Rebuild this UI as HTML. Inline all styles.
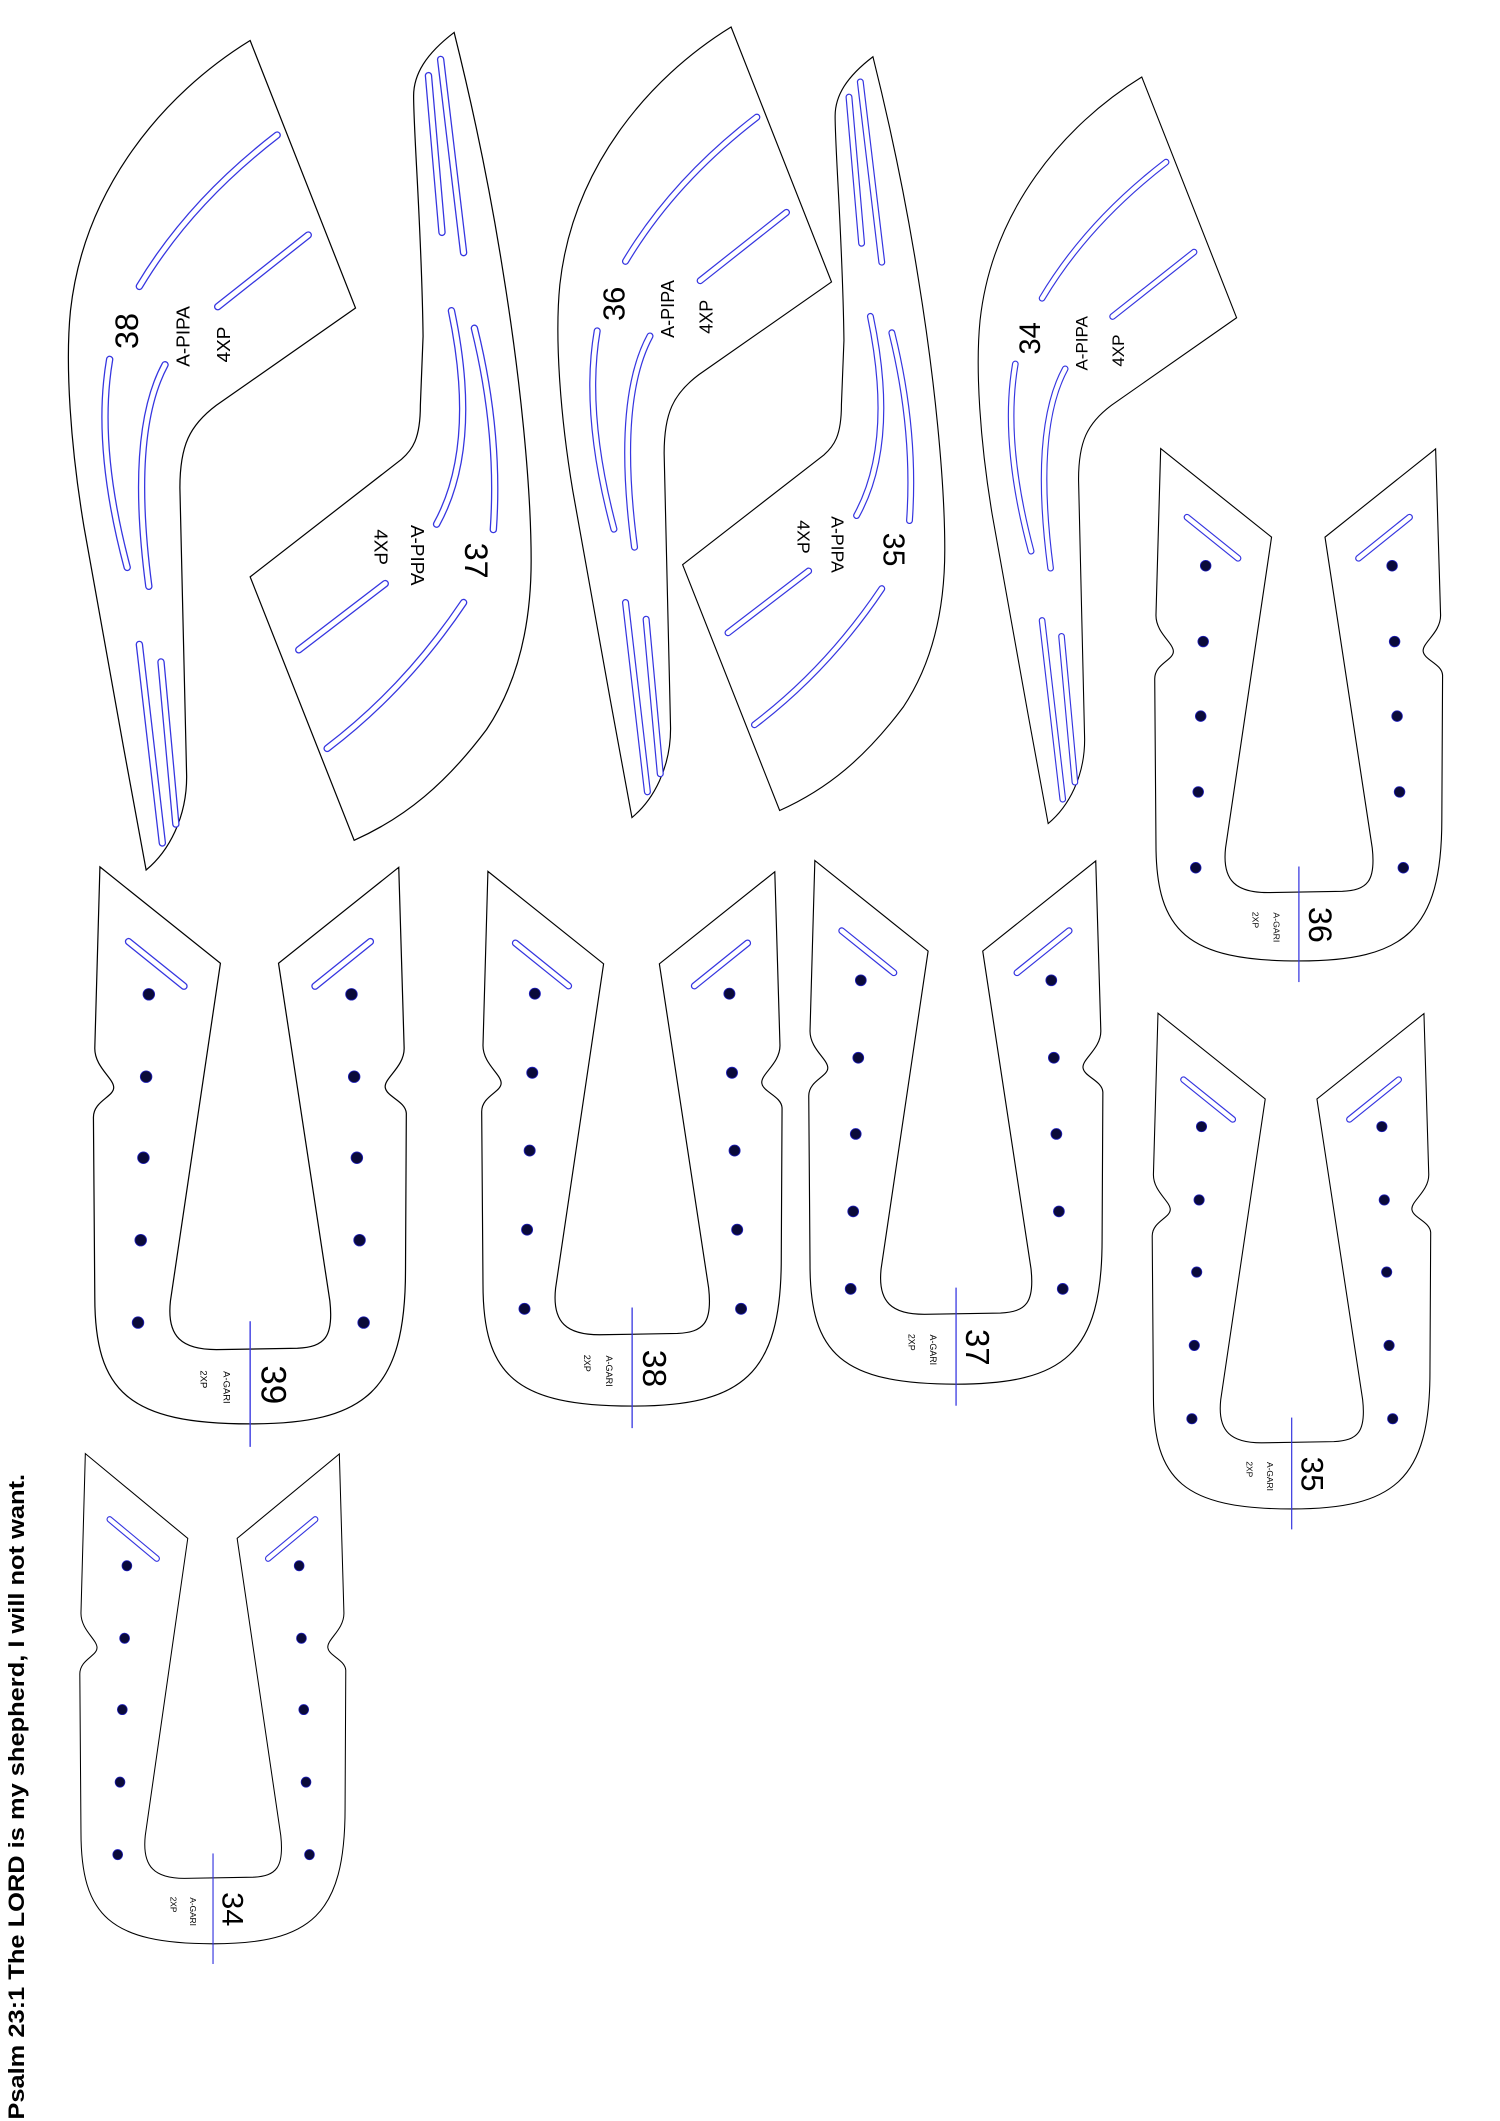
<!DOCTYPE html>
<html><head><meta charset="utf-8"><style>
html,body{margin:0;padding:0;background:#fff;}
svg{display:block;}
text{font-family:"Liberation Sans",sans-serif;fill:#000;}
</style></head><body>
<svg width="1500" height="2121" viewBox="0 0 1110 1570" xmlns="http://www.w3.org/2000/svg">
<defs>
  <g id="pipaSlots" fill="none" stroke-linecap="round">
    <path d="M103,212 Q140,150 205,100"/>
    <path d="M161,227 L228,174"/>
    <path d="M81,266 Q70,330 94,420"/>
    <path d="M122,270 Q95,320 110,434"/>
    <path d="M103,477 L120,624"/>
    <path d="M119,490 L130,610"/>
  </g>
  <g id="pipa">
    <path d="M185,30 L263,228 L160,300 C140,315 133,330 133,361 L138,575 C138,605 125,630 108,644 C92,560 75,460 62,390 C52,330 48,270 52,230 C62,140 120,70 185,30 Z" fill="#fff" stroke="#000" stroke-width="0.9"/>
    <use href="#pipaSlots" stroke="#3535e0" stroke-width="5.5"/>
    <use href="#pipaSlots" stroke="#fff" stroke-width="3.6"/>
  </g>
  <g id="pipb2Slots" fill="none" stroke-linecap="round">
    <path d="M317,56 L327,172"/>
    <path d="M326,44 L343,187"/>
    <path d="M334,230 Q355,330 323,388"/>
    <path d="M351,243 Q370,320 365,392"/>
    <path d="M221,481 L285,432"/>
    <path d="M242,554 Q300,510 343,446"/>
  </g>
  <g id="pipb">
    <path d="M336,24 C345,60 360,124 372,200 C385,280 393,360 393,415 C393,470 380,510 360,540 C330,580 300,605 262,622 L185,427 L297,340 C305,333 311,325 311,300 L313,249 C312,170 306,100 306,71 C306,55 315,40 336,24 Z" fill="#fff" stroke="#000" stroke-width="0.9"/>
    <use href="#pipb2Slots" stroke="#3535e0" stroke-width="5.5"/>
    <use href="#pipb2Slots" stroke="#fff" stroke-width="3.6"/>
  </g>
  <g id="uslots" fill="none" stroke-linecap="round">
    <path d="M95,697 L136,730"/>
    <path d="M274,697 L233,730"/>
  </g>
  <g id="u">
    <path d="M73.8,641.7 L163,713 L126,963 C123,990 135,999 160,999 L220,998 C240,997 247,990 244,963 L206,713 L295,642 L299,776 C299,790 284,798 285,805 C286,812 300,815 300.6,824 L300,940 C300,1030 270,1054 185,1054 C95,1054 70,1030 70,960 L69,827 C69,815 84,812 84,805 C84,798 70,790 70,776 Z" fill="#fff" stroke="#000" stroke-width="0.9"/>
    <use href="#uslots" stroke="#3535e0" stroke-width="5.5"/>
    <use href="#uslots" stroke="#fff" stroke-width="3.6"/>
    <g fill="#0a0a3a" stroke="#2020c0" stroke-width="0.6">
      <circle cx="110" cy="736" r="4.3"/><circle cx="108" cy="797" r="4.3"/><circle cx="106" cy="857" r="4.3"/><circle cx="104" cy="918" r="4.3"/><circle cx="102" cy="979" r="4.3"/>
      <circle cx="260" cy="736" r="4.3"/><circle cx="262" cy="797" r="4.3"/><circle cx="264" cy="857" r="4.3"/><circle cx="266" cy="918" r="4.3"/><circle cx="269" cy="979" r="4.3"/>
    </g>
    <line x1="185" y1="978" x2="185" y2="1071" stroke="#3535e0" stroke-width="1"/>
    <text x="150" y="1021" font-size="7" text-anchor="middle" dominant-baseline="central" transform="rotate(90 150 1021)">2XP</text>
    <text x="167" y="1027" font-size="7" text-anchor="middle" dominant-baseline="central" transform="rotate(90 167 1027)">A-GARI</text>
  </g>
</defs>

<!-- PIPA pieces -->
<g>
  <use href="#pipa"/>
  <g transform="rotate(-90 94 245)"><text x="94" y="245" font-size="24" text-anchor="middle" dominant-baseline="central">38</text></g>
  <g transform="rotate(-90 136 249)"><text x="136" y="249" font-size="14" text-anchor="middle" dominant-baseline="central">A-PIPA</text></g>
  <g transform="rotate(-90 166 255)"><text x="166" y="255" font-size="14" text-anchor="middle" dominant-baseline="central">4XP</text></g>
</g>
<g>
  <use href="#pipb"/>
  <g transform="rotate(90 352 415)"><text x="352" y="415" font-size="24" text-anchor="middle" dominant-baseline="central">37</text></g>
  <g transform="rotate(90 308 411)"><text x="308" y="411" font-size="14" text-anchor="middle" dominant-baseline="central">A-PIPA</text></g>
  <g transform="rotate(90 281 405)"><text x="281" y="405" font-size="14" text-anchor="middle" dominant-baseline="central">4XP</text></g>
</g>
<g transform="translate(541,20) scale(0.953) translate(-185,-30)">
  <use href="#pipa"/>
  <g transform="rotate(-90 94 245)"><text x="94" y="245" font-size="24" text-anchor="middle" dominant-baseline="central">36</text></g>
  <g transform="rotate(-90 136 249)"><text x="136" y="249" font-size="14" text-anchor="middle" dominant-baseline="central">A-PIPA</text></g>
  <g transform="rotate(-90 166 255)"><text x="166" y="255" font-size="14" text-anchor="middle" dominant-baseline="central">4XP</text></g>
</g>
<g transform="translate(646,42) scale(0.933) translate(-336,-24)">
  <use href="#pipb"/>
  <g transform="rotate(90 352 415)"><text x="352" y="415" font-size="24" text-anchor="middle" dominant-baseline="central">35</text></g>
  <g transform="rotate(90 308 411)"><text x="308" y="411" font-size="14" text-anchor="middle" dominant-baseline="central">A-PIPA</text></g>
  <g transform="rotate(90 281 405)"><text x="281" y="405" font-size="14" text-anchor="middle" dominant-baseline="central">4XP</text></g>
</g>
<g transform="translate(845,57) scale(0.9) translate(-185,-30)">
  <use href="#pipa"/>
  <g transform="rotate(-90 94 245)"><text x="94" y="245" font-size="24" text-anchor="middle" dominant-baseline="central">34</text></g>
  <g transform="rotate(-90 136 249)"><text x="136" y="249" font-size="14" text-anchor="middle" dominant-baseline="central">A-PIPA</text></g>
  <g transform="rotate(-90 166 255)"><text x="166" y="255" font-size="14" text-anchor="middle" dominant-baseline="central">4XP</text></g>
</g>

<!-- GARI pieces -->
<g>
  <use href="#u"/>
  <g transform="rotate(90 202 1025)"><text x="202" y="1025" font-size="26" text-anchor="middle" dominant-baseline="central">39</text></g>
</g>
<g transform="translate(361,645) scale(0.96) translate(-73.8,-641.7)">
  <use href="#u"/>
  <g transform="rotate(90 202 1025)"><text x="202" y="1025" font-size="26" text-anchor="middle" dominant-baseline="central">38</text></g>
</g>
<g transform="translate(603,637) scale(0.94) translate(-73.8,-641.7)">
  <use href="#u"/>
  <g transform="rotate(90 202 1025)"><text x="202" y="1025" font-size="26" text-anchor="middle" dominant-baseline="central">37</text></g>
</g>
<g transform="translate(859,332) scale(0.92) translate(-73.8,-641.7)">
  <use href="#u"/>
  <g transform="rotate(90 202 1025)"><text x="202" y="1025" font-size="26" text-anchor="middle" dominant-baseline="central">36</text></g>
</g>
<g transform="translate(857,750) scale(0.89) translate(-73.8,-641.7)">
  <use href="#u"/>
  <g transform="rotate(90 202 1025)"><text x="202" y="1025" font-size="26" text-anchor="middle" dominant-baseline="central">35</text></g>
</g>
<g transform="translate(63,1076) scale(0.85,0.88) translate(-73.8,-641.7)">
  <use href="#u"/>
  <g transform="rotate(90 202 1025)"><text x="202" y="1025" font-size="26" text-anchor="middle" dominant-baseline="central">34</text></g>
</g>

<!-- Psalm -->
<g transform="rotate(-90 12 1330)">
  <text x="12" y="1330" font-size="16.5" font-weight="bold" text-anchor="middle" dominant-baseline="central" textLength="478" lengthAdjust="spacingAndGlyphs">Psalm 23:1 The LORD is my shepherd, I will not want.</text>
</g>
</svg>
</body></html>
